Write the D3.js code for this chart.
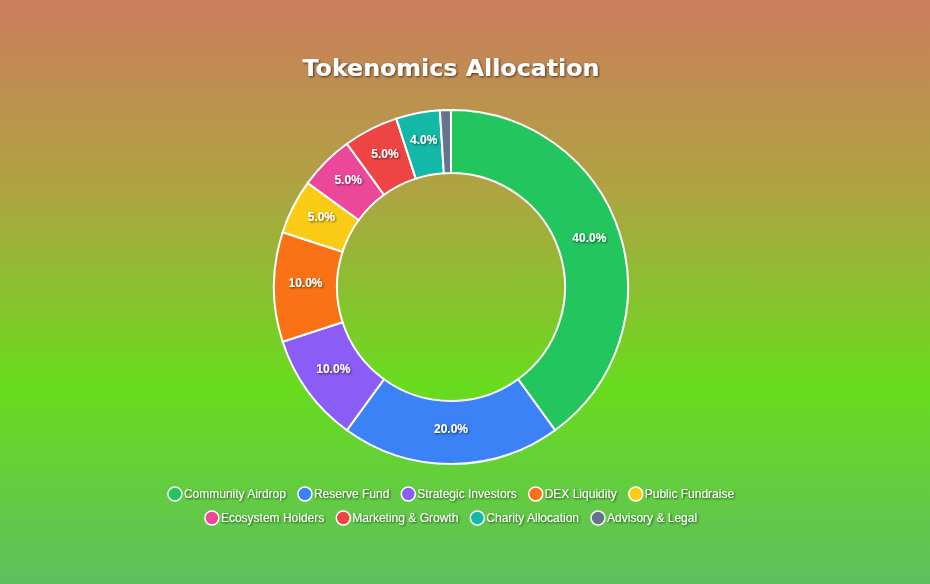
<!DOCTYPE html>
<html>
<head>
<meta charset="utf-8">
<script src="https://cdn.jsdelivr.net/npm/d3@7"></script>
<style>
  html, body { margin: 0; padding: 0; }
  body { width: 930px; height: 584px; overflow: hidden; }
</style>
</head>
<body>
<svg id="chart" width="930" height="584"></svg>
<script>
// chart data
const categories = [
  'Community Airdrop', 'Reserve Fund', 'Strategic Investors', 'DEX Liquidity',
  'Public Fundraise', 'Ecosystem Holders', 'Marketing & Growth',
  'Charity Allocation', 'Advisory & Legal',
];
const values = [40, 20, 10, 10, 5, 5, 5, 4, 1];
const colors = [
  '#22c55e', '#3b82f6', '#8b5cf6', '#f97316', '#facc15',
  '#ec4899', '#ef4444', '#14b8a6', '#64748b',
];
const title = 'Tokenomics Allocation';

const width = 930;
const height = 584;
const cx = 451;
const cy = 287;
const outerR = 177;
const innerR = 114;

const svg = d3.select('#chart');
const defs = svg.append('defs');

// background gradient
const bg = defs.append('linearGradient')
  .attr('id', 'bg')
  .attr('x1', 0).attr('y1', 0)
  .attr('x2', 0).attr('y2', 1);
[
  [0, '#cc7d5c'],
  [0.33, '#aea442'],
  [0.66, '#68dc1d'],
  [1, '#5ebf5f'],
].forEach(([o, c]) => bg.append('stop').attr('offset', o).attr('stop-color', c));

svg.append('rect')
  .attr('width', width)
  .attr('height', height)
  .attr('fill', 'url(#bg)');

// text shadow
defs.append('filter')
  .attr('id', 'shadow')
  .attr('x', '-20%').attr('y', '-40%')
  .attr('width', '140%').attr('height', '180%')
  .append('feDropShadow')
  .attr('dx', 1).attr('dy', 1)
  .attr('stdDeviation', 0.8)
  .attr('flood-color', '#000')
  .attr('flood-opacity', 0.65);

// title
const titleText = svg.append('text')
  .attr('x', cx)
  .attr('y', 76)
  .attr('text-anchor', 'middle')
  .attr('fill', '#fff')
  .style('font-family', '"DejaVu Sans", sans-serif')
  .style('font-weight', 700)
  .style('font-size', '22px')
  .attr('filter', 'url(#shadow)')
  .text(title);
// fit the title to the reference width
const tw = titleText.node().getComputedTextLength();
titleText.style('font-size', `${(22 * 297) / tw}px`);

// donut
const pie = d3.pie().sort(null).value((d) => d);
const arc = d3.arc().innerRadius(innerR).outerRadius(outerR);
const labelArc = d3.arc()
  .innerRadius((innerR + outerR) / 2)
  .outerRadius((innerR + outerR) / 2);
const total = d3.sum(values);

const g = svg.append('g').attr('transform', `translate(${cx},${cy})`);
const slices = g.selectAll('.slice')
  .data(pie(values))
  .join('g')
  .attr('class', 'slice');

slices.append('path')
  .attr('d', arc)
  .attr('fill', (d, i) => colors[i])
  .attr('stroke', '#fff')
  .attr('stroke-width', 2);

slices.filter((d) => d.data / total >= 0.02)
  .append('text')
  .attr('transform', (d) => `translate(${labelArc.centroid(d)})`)
  .attr('text-anchor', 'middle')
  .attr('dy', '0.02em')
  .attr('fill', '#fff')
  .attr('filter', 'url(#shadow)')
  .style('font-family', '"Liberation Sans", Arial, sans-serif')
  .style('font-weight', 700)
  .style('font-size', '12px')
  .text((d) => `${((d.data / total) * 100).toFixed(1)}%`);

// legend
const rows = [[0, 1, 2, 3, 4], [5, 6, 7, 8]];
const rowY = [494, 518];
const markR = 7;
const markGap = 2;
const itemGap = 12;

rows.forEach((row, ri) => {
  const lg = svg.append('g');
  const items = row.map((idx) => {
    const it = lg.append('g');
    it.append('circle')
      .attr('r', markR)
      .attr('fill', colors[idx])
      .attr('stroke', '#fff')
      .attr('stroke-width', 1.5);
    const t = it.append('text')
      .attr('x', markR + markGap)
      .attr('dy', '0.35em')
      .attr('fill', '#fff')
      .attr('filter', 'url(#shadow)')
      .style('font-family', '"Liberation Sans", Arial, sans-serif')
      .style('font-size', '12px')
      .text(categories[idx]);
    return { it, w: markR * 2 + markGap + t.node().getComputedTextLength() };
  });
  const rowW = d3.sum(items, (d) => d.w) + itemGap * (items.length - 1);
  let x = cx - rowW / 2;
  items.forEach((d) => {
    d.it.attr('transform', `translate(${x + markR},${rowY[ri]})`);
    x += d.w + itemGap;
  });
});
</script>
</body>
</html>
